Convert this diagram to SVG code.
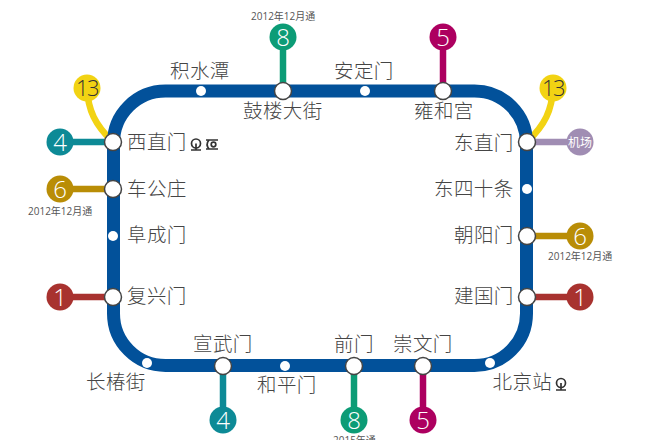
<svg xmlns="http://www.w3.org/2000/svg" width="667" height="440" viewBox="0 0 667 440">
<style>
text{font-family:"Noto Sans CJK SC","Noto Sans CJK JP",sans-serif}
.st{font-size:19.500px;font-weight:300;fill:#454545;letter-spacing:.4px}
.d{font-size:10px;fill:#555;font-family:"Open Sans","Noto Sans CJK SC",sans-serif}
.n{font-family:"Open Sans","Liberation Sans",sans-serif;font-size:24px;font-weight:300;fill:#fff;text-anchor:middle}
.y{font-family:"Open Sans","Liberation Sans",sans-serif;font-size:22px;font-weight:300;fill:#333;text-anchor:middle;letter-spacing:-1.500px}
.big{fill:#fff;stroke:#444;stroke-width:1.5}
.sm{fill:#fff}
.c{fill:none;stroke-width:6.500}
.ic{fill:none;stroke:#333;stroke-width:1.700}
</style>
<rect width="667" height="440" fill="#fff"/>
<g id="connectors">
<path class="c" stroke="#f2d313" d="M87 88C88 110 95 125 113 142"/>
<path class="c" stroke="#f2d313" d="M553 88C552 110 545 125 527 142"/>
<path class="c" stroke="#0d8a96" d="M60 142H113"/>
<path class="c" stroke="#b98d06" d="M60 189H113"/>
<path class="c" stroke="#a8322f" d="M60 297H113"/>
<path class="c" stroke="#a08db3" d="M527 142H580"/>
<path class="c" stroke="#b98d06" d="M527 236H580"/>
<path class="c" stroke="#a8322f" d="M527 297H580"/>
<path class="c" stroke="#0c9c76" d="M283 37V91"/>
<path class="c" stroke="#ad0060" d="M443 37V91"/>
<path class="c" stroke="#0d8a96" d="M223 366V420"/>
<path class="c" stroke="#0c9c76" d="M354 366V420"/>
<path class="c" stroke="#ad0060" d="M423 366V420"/>
<rect x="113.500" y="91" width="413" height="274.500" rx="52" fill="none" stroke="#02519a" stroke-width="13"/>
</g>
<g id="line13-left"><circle cx="87" cy="88" r="13.500" fill="#f2d313"/><text class="y" x="87" y="96">13</text></g>
<g id="line13-right"><circle cx="553" cy="88" r="13.500" fill="#f2d313"/><text class="y" x="553" y="96">13</text></g>
<g id="line4-left"><circle cx="60" cy="142" r="13.500" fill="#0d8a96"/><text class="n" x="60" y="151">4</text></g>
<g id="line6-left"><circle cx="60" cy="189" r="13.500" fill="#b98d06"/><text class="n" x="60" y="198">6</text><text class="d" x="28" y="215">2012年12月通</text></g>
<g id="line1-left"><circle cx="60" cy="297" r="13.500" fill="#a8322f"/><text class="n" x="60" y="306">1</text></g>
<g id="airport"><circle cx="580" cy="142" r="13.500" fill="#a08db3"/><text x="580" y="146.500" text-anchor="middle" font-size="12" fill="#fff">机场</text></g>
<g id="line6-right"><circle cx="580" cy="236" r="13.500" fill="#b98d06"/><text class="n" x="580" y="245">6</text><text class="d" x="548" y="260">2012年12月通</text></g>
<g id="line1-right"><circle cx="580" cy="297" r="13.500" fill="#a8322f"/><text class="n" x="580" y="306">1</text></g>
<g id="line8-top"><circle cx="283" cy="37" r="13.500" fill="#0c9c76"/><text class="n" x="283" y="46">8</text><text class="d" x="251" y="20">2012年12月通</text></g>
<g id="line5-top"><circle cx="443" cy="37" r="13.500" fill="#ad0060"/><text class="n" x="443" y="46">5</text></g>
<g id="line4-bottom"><circle cx="223" cy="420" r="13.500" fill="#0d8a96"/><text class="n" x="223" y="429">4</text></g>
<g id="line8-bottom"><circle cx="354" cy="420" r="13.500" fill="#0c9c76"/><text class="n" x="354" y="429">8</text><text class="d" x="333" y="444">2015年通</text></g>
<g id="line5-bottom"><circle cx="423" cy="420" r="13.500" fill="#ad0060"/><text class="n" x="423" y="429">5</text></g>
<g id="st-xizhimen"><circle class="big" cx="113" cy="142" r="8.500"/><text class="st" x="127" y="149">西直门</text>
<circle class="ic" cx="196" cy="143.500" r="4.500"/><path class="ic" d="M196 143.500V150M191 150H201"/>
<path class="ic" d="M206 140H218M206 149H218M209 140C206.500 143 206.500 146 209 149"/><circle class="ic" cx="213.500" cy="144.500" r="2.300"/></g>
<g id="st-chegongzhuang"><circle class="big" cx="113" cy="189" r="8.500"/><text class="st" x="127" y="196">车公庄</text></g>
<g id="st-fuchengmen"><circle class="sm" cx="113" cy="236" r="5"/><text class="st" x="127" y="242">阜成门</text></g>
<g id="st-fuxingmen"><circle class="big" cx="113" cy="297" r="8.500"/><text class="st" x="127" y="303">复兴门</text></g>
<g id="st-jishuitan"><circle class="sm" cx="201" cy="91" r="5"/><text class="st" x="170" y="78">积水潭</text></g>
<g id="st-gulou"><circle class="big" cx="283" cy="91" r="8.500"/><text class="st" x="243" y="118">鼓楼大街</text></g>
<g id="st-andingmen"><circle class="sm" cx="365" cy="91" r="5"/><text class="st" x="334" y="78">安定门</text></g>
<g id="st-yonghegong"><circle class="big" cx="443" cy="91" r="8.500"/><text class="st" x="414" y="118">雍和宫</text></g>
<g id="st-dongzhimen"><circle class="big" cx="527" cy="142" r="8.500"/><text class="st" x="454" y="150">东直门</text></g>
<g id="st-dongsishitiao"><circle class="sm" cx="527" cy="189" r="5"/><text class="st" x="434" y="196">东四十条</text></g>
<g id="st-chaoyangmen"><circle class="big" cx="527" cy="236" r="8.500"/><text class="st" x="454" y="242">朝阳门</text></g>
<g id="st-jianguomen"><circle class="big" cx="527" cy="297" r="8.500"/><text class="st" x="454" y="303">建国门</text></g>
<g id="st-beijingzhan"><circle class="sm" cx="490" cy="363" r="5"/><text class="st" x="492.500" y="389">北京站</text>
<circle class="ic" cx="561" cy="383" r="4.500"/><path class="ic" d="M561 383V390M556 390H566"/></g>
<g id="st-chongwenmen"><circle class="big" cx="423" cy="366" r="8.500"/><text class="st" x="393" y="351">崇文门</text></g>
<g id="st-qianmen"><circle class="big" cx="354" cy="366" r="8.500"/><text class="st" x="334" y="351">前门</text></g>
<g id="st-hepingmen"><circle class="sm" cx="285" cy="366" r="5"/><text class="st" x="257" y="392">和平门</text></g>
<g id="st-xuanwumen"><circle class="big" cx="223" cy="366" r="8.500"/><text class="st" x="193" y="351">宣武门</text></g>
<g id="st-changchunjie"><circle class="sm" cx="147" cy="363" r="5"/><text class="st" x="86" y="389">长椿街</text></g>
</svg>
